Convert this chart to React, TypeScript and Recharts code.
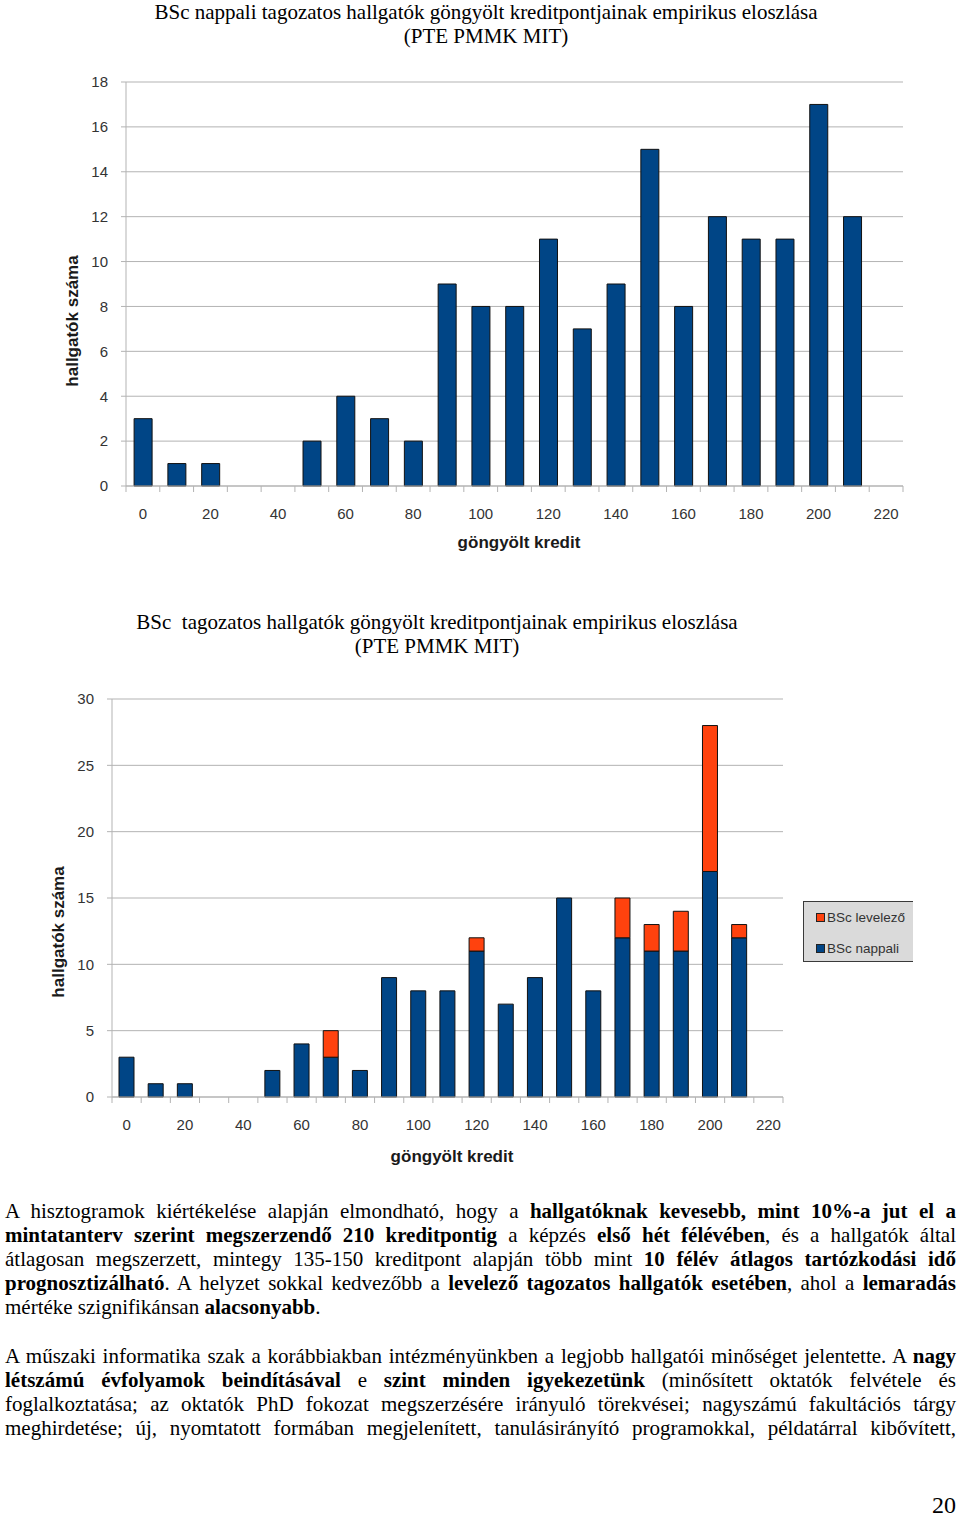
import React from "react";
import {
  Bar,
  BarChart,
  CartesianGrid,
  Label,
  Legend,
  XAxis,
  YAxis,
} from "recharts";

// göngyölt kredit (bin start)
const credits = [
  "0", "10", "20", "30", "40", "50", "60", "70", "80", "90", "100", "110",
  "120", "130", "140", "150", "160", "170", "180", "190", "200", "210", "220",
];
const nappali = [3, 1, 1, 0, 0, 2, 4, 3, 2, 9, 8, 8, 11, 7, 9, 15, 8, 12, 11, 11, 17, 12, 0];
const levelezo = [0, 0, 0, 0, 0, 0, 0, 2, 0, 0, 0, 0, 1, 0, 0, 0, 0, 3, 2, 3, 11, 1, 0];

const ticks1 = [0, 2, 4, 6, 8, 10, 12, 14, 16, 18];
const ticks2 = [0, 5, 10, 15, 20, 25, 30];

const title1 = [
  "BSc nappali tagozatos hallgatók göngyölt kreditpontjainak empirikus eloszlása",
  "(PTE PMMK MIT)",
];
const title2 = [
  "BSc  tagozatos hallgatók göngyölt kreditpontjainak empirikus eloszlása",
  "(PTE PMMK MIT)",
];
const yTitle = "hallgatók száma";
const xTitle = "göngyölt kredit";
const legendOrder = ["BSc levelező", "BSc nappali"];

const data1 = credits.map((c, i) => ({ credit: c, nappali: nappali[i] }));
const data2 = credits.map((c, i) => ({
  credit: c,
  nappali: nappali[i],
  levelezo: levelezo[i],
}));

type Seg = [string, boolean?];
const para1: Seg[][] = [
  [["A hisztogramok kiértékelése alapján elmondható, hogy a "], ["hallgatóknak kevesebb, mint 10%-a jut el a", true]],
  [["mintatanterv szerint megszerzendő 210 kreditpontig", true], [" a képzés "], ["első hét félévében", true], [", és a hallgatók által"]],
  [["átlagosan megszerzett, mintegy 135-150 kreditpont alapján több mint "], ["10 félév átlagos tartózkodási idő", true]],
  [["prognosztizálható", true], [".  A helyzet sokkal kedvezőbb a "], ["levelező tagozatos hallgatók esetében", true], [", ahol a "], ["lemaradás", true]],
  [["mértéke szignifikánsan "], ["alacsonyabb", true], ["."]],
];
const para2: Seg[][] = [
  [["A műszaki informatika szak a korábbiakban intézményünkben a legjobb hallgatói minőséget jelentette. A "], ["nagy", true]],
  [["létszámú évfolyamok beindításával", true], [" e "], ["szint minden igyekezetünk", true], [" (minősített oktatók felvétele és"]],
  [["foglalkoztatása; az oktatók PhD fokozat megszerzésére irányuló törekvései; nagyszámú fakultációs tárgy"]],
  [["meghirdetése; új, nyomtatott formában megjelenített, tanulásirányító programokkal, példatárral kibővített,"]],
];

const BLUE = "#004586";
const ORANGE = "#ff420e";
const GRID = "#b3b3b3";
const TICK = "#333333";
const SANS = "'Liberation Sans', Arial, sans-serif";
const SERIF = "'Liberation Serif', 'Times New Roman', serif";

const makeXTick = (half: number, last: number) => (props: any) => {
  const { x, y, payload, index } = props;
  return (
    <g>
      <line x1={x - half} x2={x - half} y1={y} y2={y + 6} stroke={GRID} />
      {index === last && (
        <line x1={x + half} x2={x + half} y1={y} y2={y + 6} stroke={GRID} />
      )}
      {index % 2 === 0 && (
        <text
          x={x}
          y={y + 28}
          dy="0.35em"
          textAnchor="middle"
          fill={TICK}
          fontSize={15}
          fontFamily={SANS}
        >
          {payload.value}
        </text>
      )}
    </g>
  );
};

const axisTitle = (text: string, cx: number, cy: number, rotate: boolean) => () => (
  <text
    x={cx}
    y={cy}
    dy="0.35em"
    textAnchor="middle"
    transform={rotate ? `rotate(-90 ${cx} ${cy})` : undefined}
    fill="#1a1a1a"
    fontSize={17}
    fontWeight="bold"
    fontFamily={SANS}
  >
    {text}
  </text>
);

const Title = ({ lines, top, cx }: { lines: string[]; top: number; cx: number }) => (
  <div
    style={{
      position: "absolute",
      top,
      left: cx,
      transform: "translateX(-50%)",
      fontFamily: SERIF,
      fontSize: 21,
      lineHeight: "24px",
      textAlign: "center",
      whiteSpace: "pre",
      color: "#000",
    }}
  >
    {lines.map((l, i) => (
      <div key={i}>{l}</div>
    ))}
  </div>
);

const LegendBox = (props: any) => {
  const payload: any[] = props.payload || [];
  return (
    <div
      style={{
        width: 110,
        height: 61,
        boxSizing: "border-box",
        background: "#dadada",
        border: "1px solid #3a3a3a",
        borderRight: "none",
        paddingTop: 3,
      }}
    >
      {legendOrder.map((name) => {
        const entry = payload.find((p) => p.value === name);
        return (
          <div
            key={name}
            style={{
              display: "flex",
              alignItems: "center",
              height: 24,
              marginBottom: 7,
              paddingLeft: 12,
              fontFamily: SANS,
              fontSize: 13.5,
              color: TICK,
              whiteSpace: "nowrap",
            }}
          >
            <span
              style={{
                display: "inline-block",
                width: 7,
                height: 7,
                background: entry ? entry.color : "#000",
                border: "1px solid #222",
                marginRight: 2,
              }}
            />
            {name}
          </div>
        );
      })}
    </div>
  );
};

const Para = ({ lines, top, endsHere }: { lines: Seg[][]; top: number; endsHere: boolean }) => (
  <div
    style={{
      position: "absolute",
      top,
      left: 5,
      width: 951,
      fontFamily: SERIF,
      fontSize: 21,
      lineHeight: "24px",
      color: "#000",
    }}
  >
    {lines.map((line, i) => {
      const isLast = endsHere && i === lines.length - 1;
      return (
        <div
          key={i}
          style={{
            textAlign: isLast ? "left" : "justify",
            textAlignLast: isLast ? "left" : "justify",
          }}
        >
          {line.map(([t, b], j) => (b ? <b key={j}>{t}</b> : <span key={j}>{t}</span>))}
        </div>
      );
    })}
  </div>
);

export default function App() {
  const W = 960;
  // chart 1 layout
  const m1 = { top: 82, right: 57, left: 66, bottom: 14 };
  const yw1 = 60;
  const half1 = (W - m1.left - yw1 - m1.right) / credits.length / 2;
  // chart 2 layout
  const m2 = { top: 119, right: 177, left: 52, bottom: 23 };
  const yw2 = 60;
  const half2 = (W - m2.left - yw2 - m2.right) / credits.length / 2;

  return (
    <div
      style={{
        position: "absolute",
        top: 0,
        left: 0,
        width: 960,
        height: 1517,
        background: "#fff",
        overflow: "hidden",
      }}
    >
      <div style={{ position: "absolute", top: 0, left: 0 }}>
        <BarChart width={W} height={560} data={data1} margin={m1} barCategoryGap="24%">
          <CartesianGrid vertical={false} stroke={GRID} />
          <XAxis
            dataKey="credit"
            interval={0}
            tickLine={false}
            tickSize={0}
            tickMargin={0}
            axisLine={{ stroke: GRID }}
            tick={makeXTick(half1, credits.length - 1)}
            height={60}
          >
            <Label content={axisTitle(xTitle, 519, 542, false)} />
          </XAxis>
          <YAxis
            width={yw1}
            domain={[0, 18]}
            ticks={ticks1}
            interval={0}
            tickSize={5}
            tickMargin={13}
            axisLine={{ stroke: GRID }}
            tickLine={{ stroke: GRID }}
            tick={{ fill: TICK, fontSize: 15, fontFamily: SANS }}
          >
            <Label content={axisTitle(yTitle, 72, 321, true)} />
          </YAxis>
          <Bar
            dataKey="nappali"
            name="BSc nappali"
            fill={BLUE}
            stroke="#111"
            strokeWidth={1}
            isAnimationActive={false}
          />
        </BarChart>
      </div>
      <Title lines={title1} top={0} cx={486} />

      <div style={{ position: "absolute", top: 580, left: 0 }}>
        <BarChart width={W} height={600} data={data2} margin={m2} barCategoryGap="24%">
          <CartesianGrid vertical={false} stroke={GRID} yAxisId="l" />
          <XAxis
            dataKey="credit"
            interval={0}
            tickLine={false}
            tickSize={0}
            tickMargin={0}
            axisLine={{ stroke: GRID }}
            tick={makeXTick(half2, credits.length - 1)}
            height={60}
          >
            <Label content={axisTitle(xTitle, 452, 576, false)} />
          </XAxis>
          <YAxis
            yAxisId="l"
            width={yw2}
            domain={[0, 30]}
            ticks={ticks2}
            interval={0}
            tickSize={5}
            tickMargin={13}
            axisLine={{ stroke: GRID }}
            tickLine={{ stroke: GRID }}
            tick={{ fill: TICK, fontSize: 15, fontFamily: SANS }}
          >
            <Label content={axisTitle(yTitle, 58, 352, true)} />
          </YAxis>
          <YAxis
            yAxisId="r"
            orientation="right"
            width={0}
            domain={[0, 30]}
            tick={false}
            tickLine={false}
            axisLine={{ stroke: GRID }}
          />
          <Legend
            layout="horizontal"
            verticalAlign="middle"
            align="center"
            content={<LegendBox />}
            wrapperStyle={{ left: 803, top: 321, width: 110, height: 61 }}
          />
          <Bar
            yAxisId="l"
            dataKey="nappali"
            name="BSc nappali"
            stackId="a"
            fill={BLUE}
            stroke="#111"
            strokeWidth={1}
            isAnimationActive={false}
          />
          <Bar
            yAxisId="l"
            dataKey="levelezo"
            name="BSc levelező"
            stackId="a"
            fill={ORANGE}
            stroke="#111"
            strokeWidth={1}
            isAnimationActive={false}
          />
        </BarChart>
      </div>
      <Title lines={title2} top={610} cx={437} />

      <Para lines={para1} top={1199} endsHere={true} />
      <Para lines={para2} top={1344} endsHere={false} />
      <div
        style={{
          position: "absolute",
          top: 1491,
          left: 932,
          fontFamily: SERIF,
          fontSize: 24,
          lineHeight: "28px",
          color: "#000",
        }}
      >
        20
      </div>
    </div>
  );
}
